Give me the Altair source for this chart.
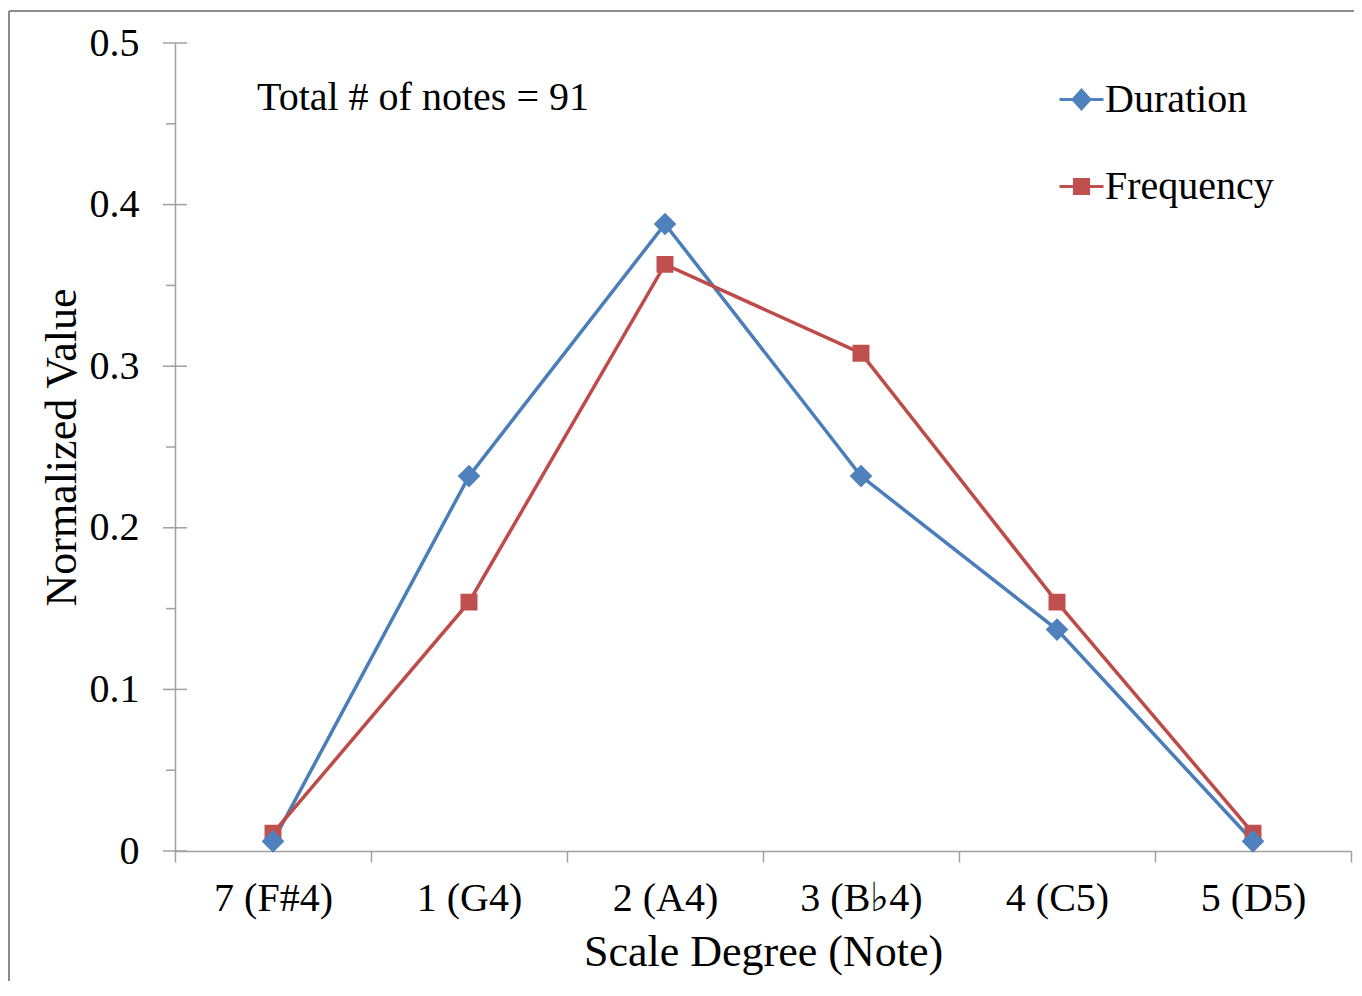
import json
import altair as alt
import pandas as pd

# ---- data ----
categories = ["7 (F#4)", "1 (G4)", "2 (A4)", "3 (B\u266d4)", "4 (C5)", "5 (D5)"]
duration = [0.006, 0.232, 0.388, 0.232, 0.137, 0.006]
frequency = [0.011, 0.154, 0.363, 0.308, 0.154, 0.011]
y_major = [0, 0.1, 0.2, 0.3, 0.4, 0.5]
y_minor = [0.05, 0.15, 0.25, 0.35, 0.45]
series_names = ["Duration", "Frequency"]
annotation = "Total # of notes = 91"
x_title = "Scale Degree (Note)"
y_title = "Normalized Value"

idx = list(range(len(categories)))
df_d = pd.DataFrame({"i": idx, "cat": categories, "v": duration, "series": series_names[0]})
df_f = pd.DataFrame({"i": idx, "cat": categories, "v": frequency, "series": series_names[1]})
df_major = pd.DataFrame({"v": y_major})
df_minor = pd.DataFrame({"v": y_minor})
one = pd.DataFrame({"a": [0]})

W, H = 1176, 808
FONT = "Liberation Serif"
GRAY = "#A0A0A0"
BLUE_L, BLUE_M = "#4A7EBB", "#4F81BD"
RED_L, RED_M = "#BE4B48", "#C0504D"

x_ticks = sorted([i - 0.5 for i in range(len(categories) + 1)] + idx)
x_enc = alt.X(
    "i:Q",
    scale=alt.Scale(domain=[-0.5, len(categories) - 0.5], nice=False, zero=False),
    axis=alt.Axis(
        values=x_ticks,
        labelExpr="datum.value % 1 === 0 ? " + json.dumps(categories, ensure_ascii=False) + "[datum.value] : ''",
        tickOpacity={"condition": {"test": "datum.value % 1 === 0", "value": 0}, "value": 1},
        tickSize=11, tickColor=GRAY, tickWidth=1.5,
        domainColor=GRAY, domainWidth=1.5,
        labelFont=FONT, labelFontSize=40, labelColor="black", labelPadding=16,
        labelOverlap=False, labelFlush=False, labelLimit=0,
        title=x_title, titleFont=FONT, titleFontSize=44, titleFontWeight="normal",
        titleColor="black", titlePadding=12, grid=False,
    ),
)
y_enc = alt.Y(
    "v:Q",
    scale=alt.Scale(domain=[0, 0.5], nice=False, zero=True),
    axis=alt.Axis(
        values=y_major,
        labelExpr="datum.value === 0 ? '0' : format(datum.value, '.1f')",
        ticks=False, domainColor=GRAY, domainWidth=1.5,
        labelFont=FONT, labelFontSize=40, labelColor="black", labelPadding=36,
        title=y_title, titleFont=FONT, titleFontSize=44, titleFontWeight="normal",
        titleColor="black", titlePadding=5, grid=False, titleLimit=0,
    ),
)

DIAMOND_PATH = "M-1,0H1M-0.38,0L0,-0.42L0.38,0L0,0.42Z"
SQUARE_PATH = "M-1,0H1M-0.32,-0.32H0.32V0.32H-0.32Z"


def legend(x, y, path):
    return alt.Legend(
        orient="none", legendX=x, legendY=y, title=None, padding=0,
        symbolType=path, symbolSize=1936, symbolStrokeWidth=3,
        labelFont=FONT, labelFontSize=40, labelColor="black", labelOffset=0,
        labelLimit=0,
    )


frame_top = alt.Chart(one).mark_rule(color="#8C8C8C", strokeWidth=2).encode(
    x=alt.value(-166), x2=alt.value(W + 20), y=alt.value(-32))
frame_left = alt.Chart(one).mark_rule(color="#8C8C8C", strokeWidth=2).encode(
    x=alt.value(-166), y=alt.value(-32), y2=alt.value(H + 200))

major_ticks = alt.Chart(df_major).mark_rule(color=GRAY, strokeWidth=1.5).encode(
    y=y_enc, x=alt.value(-12), x2=alt.value(12))
minor_ticks = alt.Chart(df_minor).mark_rule(color=GRAY, strokeWidth=1.5).encode(
    y=y_enc, x=alt.value(-9), x2=alt.value(0))

dur_line = alt.Chart(df_d).mark_line(color=BLUE_L, strokeWidth=3.5).encode(x=x_enc, y=y_enc)
frq_line = alt.Chart(df_f).mark_line(color=RED_L, strokeWidth=3.5).encode(x=x_enc, y=y_enc)

dur_pts = alt.Chart(df_d).mark_point(
    filled=True, shape="diamond", size=340, opacity=1, stroke=BLUE_M, strokeWidth=3
).encode(
    x=x_enc, y=y_enc,
    color=alt.Color("series:N", scale=alt.Scale(domain=[series_names[0]], range=[BLUE_M]),
                    legend=legend(883, 33, DIAMOND_PATH)),
)
frq_pts = alt.Chart(df_f).mark_point(
    filled=True, shape="square", size=195, opacity=1, stroke=RED_M, strokeWidth=3
).encode(
    x=x_enc, y=y_enc,
    fill=alt.Fill("series:N", scale=alt.Scale(domain=[series_names[1]], range=[RED_M]),
                  legend=legend(883, 120, SQUARE_PATH)),
)

note = alt.Chart(one).mark_text(
    font=FONT, fontSize=40, color="black", align="left", baseline="alphabetic"
).encode(x=alt.value(82), y=alt.value(67), text=alt.value(annotation))

chart = alt.layer(
    frame_top, frame_left, major_ticks, minor_ticks, dur_line, frq_line, frq_pts, dur_pts, note
).resolve_scale(color="independent", fill="independent").properties(
    width=W, height=H,
    autosize=alt.AutoSizeParams(type="none"),
    padding={"left": 167, "top": 35, "right": 3, "bottom": 130},
    background="white",
).configure_view(stroke=None)

chart.save("out.html", embed_options={"renderer": "svg", "actions": False})
